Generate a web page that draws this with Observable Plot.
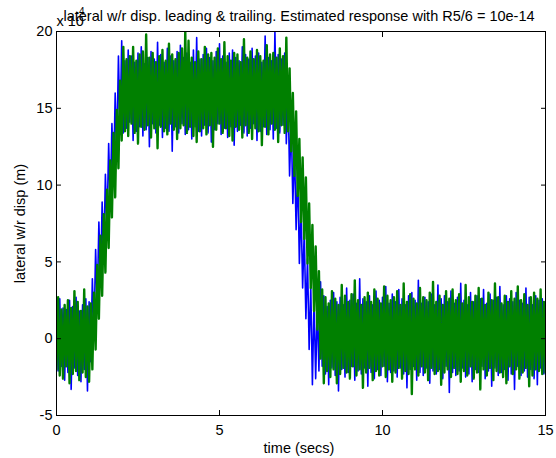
<!DOCTYPE html>
<html>
<head>
<meta charset="utf-8">
<script src="https://cdn.jsdelivr.net/npm/d3@7"></script>
<script src="https://cdn.jsdelivr.net/npm/@observablehq/plot@0.6"></script>
<style>
  html, body { margin: 0; padding: 0; background: #ffffff; }
</style>
</head>
<body>
<div id="chart"></div>
<script>
// Sample interval (secs) of the two traces
const dt = 0.05;

// Leading trace (blue), units of 1e-4 m
const leading = [
  2.3, -2.1, 2.6, -1.8, 2.0, -2.7, 1.9, -2.2, 2.5, -3.3, 2.1, -1.9, 2.7, -2.4, 1.8, -2.8, 2.2, -2.0, 2.6, -3.4, 2.4,
  -1.5, 3.9, 0.3, 5.8, 2.2, 7.6, 3.6, 8.9, 5.1, 10.7, 7.2, 12.7, 8.6, 14.0, 10.0, 16.0, 12.1, 18.4, 13.3,
  19.4, 13.4, 18.1, 13.7, 18.8, 14.1, 18.4, 12.9, 18.0, 13.5,
  18.6, 13.8, 19.0, 13.2, 17.9, 13.6, 18.3, 12.5, 18.7, 14.0,
  18.2, 13.4, 19.3, 13.9, 18.5, 13.1, 18.0, 13.7, 18.9, 13.5,
  18.4, 12.2, 18.1, 13.8, 18.7, 13.4, 19.1, 14.0, 18.3, 13.3,
  18.6, 13.6, 18.0, 13.0, 18.8, 13.8, 19.6, 13.5, 18.2, 13.2,
  18.5, 13.9, 18.9, 13.4, 18.3, 12.8, 18.1, 13.6, 18.7, 14.0,
  19.2, 13.3, 18.4, 13.7, 18.0, 13.1, 18.6, 13.8, 18.8, 12.6,
  18.3, 13.5, 18.1, 13.9, 19.0, 13.4, 18.5, 13.2, 18.2, 13.7,
  18.9, 14.0, 18.4, 12.9, 18.6, 13.5, 18.0, 13.8, 19.7, 13.3,
  18.3, 13.6, 18.1, 13.0, 20.0, 13.7, 18.5, 13.4, 18.2, 13.9,
  18.6,
  12.7, 16.4, 10.6, 14.4, 8.8, 12.5, 7.1, 10.9, 4.9, 8.8, 3.3, 7.0, 1.3, 5.2, -0.7, 3.4, -3.0,
  2.6, -2.6, 2.3, -2.1, 3.7, -1.8, 2.8, -2.3, 2.1, -3.0,
  2.5, -1.9, 3.0, -2.4, 2.4, -3.4, 2.7, -2.0, 2.2, -2.5,
  3.3, -2.2, 2.5, -1.8, 2.9, -2.7, 2.3, -2.1, 3.9, -2.3,
  2.6, -1.9, 2.4, -3.1, 2.8, -2.2, 2.2, -2.6, 3.1, -2.0,
  2.5, -2.4, 2.7, -1.8, 3.4, -2.8, 2.3, -2.2, 2.9, -2.1,
  2.4, -2.5, 3.2, -1.9, 2.6, -2.3, 2.2, -3.2, 2.8, -2.0,
  3.0, -1.8, 2.5, -2.7, 3.8, -2.2, 2.3, -2.4, 2.7, -1.9,
  2.4, -2.9, 2.9, -2.1, 2.2, -2.3, 3.5, -2.0, 2.6, -2.6,
  2.8, -1.8, 2.4, -3.5, 3.1, -2.2, 2.3, -2.4, 2.7, -2.1,
  3.6, -1.9, 2.5, -2.5, 2.2, -2.3, 3.0, -2.8, 2.4, -2.0,
  2.8, -2.2, 2.6, -1.8, 3.2, -2.6, 2.3, -2.1, 2.9, -3.1,
  2.5, -1.9, 2.7, -2.4, 3.4, -2.2, 2.2, -2.0, 2.8, -2.7,
  2.6, -2.3, 2.4, -3.3, 3.0, -1.8, 2.5, -2.4, 2.3, -2.1,
  3.3, -2.5, 2.7, -2.0, 2.2, -2.6, 2.8, -3.0, 2.5, -1.9,
  2.6, -2.3, 2.4
];

// Trailing trace (green), units of 1e-4 m
const trailing = [
  -2.0, 2.7, -2.4, 1.9, -2.6, 2.2, -1.8, 2.5, -2.9, 2.0, -2.3, 3.1, -2.1, 2.4, -2.7, 1.8, -2.2, 3.2, -2.5, 2.1, -2.8, 2.3, -2.0,
  3.0, -0.7, 4.8, 1.3, 6.7, 2.8, 8.1, 4.3, 9.7, 5.9, 11.6, 7.9, 13.4, 9.2, 14.9, 11.1, 16.8, 12.9, 19.0,
  13.5, 18.2, 13.2, 18.4, 14.0, 19.0, 13.4, 18.1, 12.7, 18.5,
  13.8, 18.7, 13.6, 19.8, 13.9, 18.3, 13.1, 18.6, 13.7, 18.0,
  12.4, 18.4, 13.8, 18.8, 13.5, 18.1, 13.3, 19.2, 14.0, 18.5,
  13.6, 18.2, 13.0, 18.6, 13.7, 18.9, 13.9, 20.0, 13.4, 19.4,
  13.8, 18.3, 13.2, 18.0, 12.8, 18.7, 13.5, 18.2, 13.7, 19.0,
  13.3, 18.5, 13.9, 18.6, 12.5, 18.3, 13.6, 18.9, 14.0, 18.2,
  13.4, 19.3, 13.7, 18.4, 13.2, 18.1, 12.9, 18.6, 13.8, 18.5,
  13.6, 18.0, 13.1, 19.5, 13.9, 18.3, 13.4, 18.7, 13.0, 18.2,
  13.7, 18.8, 13.5, 18.4, 12.6, 18.1, 13.8, 19.1, 13.3, 18.5,
  14.0, 18.6, 13.6, 18.3, 12.8, 18.9, 13.9, 18.4, 13.4, 19.6,
  13.5,
  17.6, 12.2, 16.0, 10.6, 14.8, 9.3, 13.0, 7.6, 11.8, 6.5, 10.5, 4.9, 8.8, 3.3, 7.4, 1.8, 6.0, 0.6, 4.4, -1.3, 3.2, -2.9,
  2.7, -2.1, 2.3, -2.5, 3.1, -2.0, 2.6, -2.9, 2.2, -2.3,
  3.5, -1.9, 2.8, -2.2, 2.4, -2.6, 2.9, -1.8, 3.8, -2.4,
  2.5, -2.0, 2.2, -3.2, 2.7, -2.2, 3.0, -1.9, 2.4, -2.7,
  3.2, -2.1, 2.6, -2.4, 2.3, -1.8, 3.4, -2.5, 2.8, -2.0,
  2.5, -2.8, 2.7, -2.2, 3.1, -1.9, 2.2, -2.6, 3.6, -2.1,
  2.4, -2.3, 2.9, -3.6, 2.6, -2.0, 2.3, -2.4, 3.3, -1.8,
  2.7, -2.2, 2.5, -2.7, 3.0, -1.9, 3.7, -2.3, 2.4, -2.1,
  2.8, -3.0, 2.2, -2.2, 3.1, -2.0, 2.6, -2.5, 3.2, -1.9,
  2.5, -2.3, 2.9, -2.8, 2.3, -2.1, 3.5, -2.4, 2.7, -1.8,
  2.4, -2.6, 2.8, -2.2, 3.3, -3.3, 2.6, -2.0, 2.2, -2.4,
  3.0, -1.9, 2.5, -2.7, 3.6, -2.1, 2.7, -2.2, 2.3, -2.5,
  2.8, -2.9, 2.4, -1.8, 3.1, -2.3, 2.6, -2.0, 3.4, -2.6,
  2.5, -2.2, 2.9, -1.9, 2.2, -3.1, 2.7, -2.4, 3.0, -2.0,
  2.6, -2.1, 3.2, -2.3, 2.4, -2.2
];

const xTicks = [0, 5, 10, 15];
const yTicks = [-5, 0, 5, 10, 15, 20];
const titleText = "lateral w/r disp. leading & trailing. Estimated response with R5/6 = 10e-14";
const xLabel = "time (secs)";
const yLabel = "lateral w/r disp (m)";
const expBase = "x 10";
const expPow = "-4";

const rowsLeading = leading.map((v, i) => ({t: i * dt, v}));
const rowsTrailing = trailing.map((v, i) => ({t: i * dt, v}));

const font = "Liberation Sans, Arial, Helvetica, sans-serif";
const fs = 14.5;

const chart = Plot.plot({
  width: 556,
  height: 458,
  marginLeft: 56,
  marginRight: 11,
  marginTop: 31,
  marginBottom: 43,
  style: {background: "#ffffff", fontFamily: font, fontSize: fs + "px", color: "#000000"},
  x: {domain: [0, 15]},
  y: {domain: [-5, 20]},
  marks: [
    Plot.line(rowsLeading, {x: "t", y: "v", stroke: "#0000ff", strokeWidth: 1.6, clip: true}),
    Plot.line(rowsTrailing, {x: "t", y: "v", stroke: "#008000", strokeWidth: 2.4, clip: true}),
    Plot.frame({stroke: "#000000", strokeWidth: 1}),
    // tick labels
    Plot.axisX(xTicks, {anchor: "bottom", tickSize: 0, tickPadding: 9, fontSize: fs, label: null, tickFormat: d => String(d)}),
    Plot.axisY(yTicks, {anchor: "left", tickSize: 0, tickPadding: 4, fontSize: fs, label: null, tickFormat: d => String(d)}),
    // inward tick marks on all four sides
    Plot.axisX(xTicks, {anchor: "bottom", tickSize: 5, dy: -5, text: null, label: null}),
    Plot.axisX(xTicks, {anchor: "top", tickSize: 5, dy: 5, text: null, label: null}),
    Plot.axisY(yTicks, {anchor: "left", tickSize: 5, dx: 5, text: null, label: null}),
    Plot.axisY(yTicks, {anchor: "right", tickSize: 5, dx: -5, text: null, label: null}),
    // title, exponent and axis labels
    Plot.text([titleText], {frameAnchor: "top", lineAnchor: "bottom", dx: -2, dy: -11, fontSize: fs, fill: "#000000"}),
    Plot.text([expBase], {frameAnchor: "top-left", textAnchor: "start", lineAnchor: "bottom", dy: -6, fontSize: fs, fill: "#000000"}),
    Plot.text([expPow], {frameAnchor: "top-left", textAnchor: "end", lineAnchor: "bottom", dx: 28, dy: -17, fontSize: 10, fill: "#000000"}),
    Plot.text([xLabel], {frameAnchor: "bottom", lineAnchor: "bottom", dx: -2, dy: 37, fontSize: fs, fill: "#000000"}),
    Plot.text([yLabel], {frameAnchor: "left", rotate: -90, dx: -36, lineAnchor: "middle", textAnchor: "middle", fontSize: fs, fill: "#000000"})
  ]
});

document.getElementById("chart").appendChild(chart);
</script>
</body>
</html>
